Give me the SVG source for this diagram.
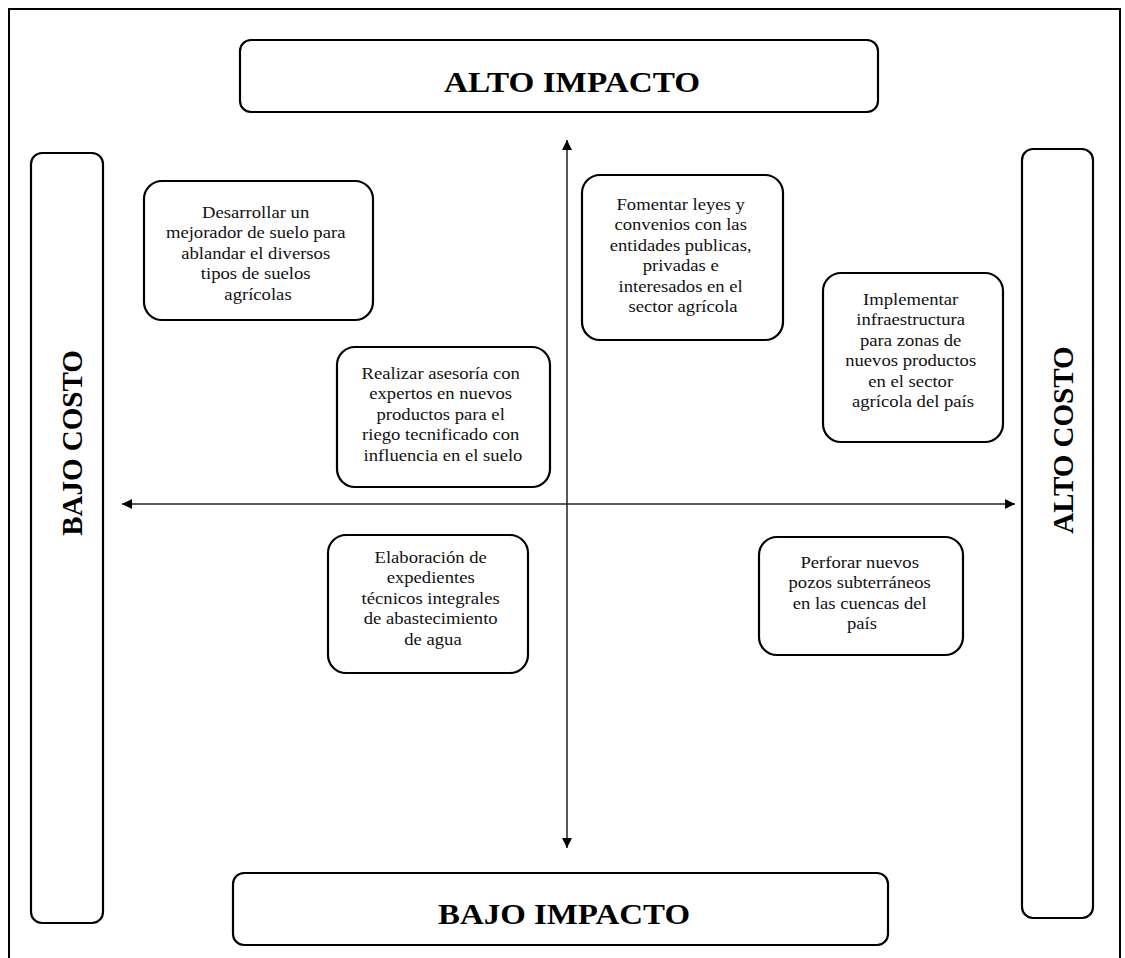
<svg xmlns="http://www.w3.org/2000/svg" width="1125" height="958" viewBox="0 0 1125 958">
  <defs>
    <style>
      .frame { fill: none; stroke: #000; stroke-width: 2; }
      .box { fill: #fff; stroke: #000; stroke-width: 2.2; }
      .axis { fill: none; stroke: #222; stroke-width: 1.5; }
      .head { font-family: "Liberation Serif", "Times New Roman", serif; font-weight: bold; font-size: 29px; fill: #000; text-anchor: middle; }
      .txt { font-family: "Liberation Serif", "Times New Roman", serif; font-size: 16.5px; fill: #111; text-anchor: middle; }
    </style>
    <marker id="arrow" viewBox="0 0 10 10" refX="10" refY="5" markerWidth="10" markerHeight="10" markerUnits="userSpaceOnUse" orient="auto-start-reverse">
      <path d="M0,0 L10,5 L0,10 z" fill="#000"/>
    </marker>
  </defs>

  <rect x="0" y="0" width="1125" height="958" fill="#fff"/>
  <!-- outer frame, open at the bottom edge -->
  <path class="frame" d="M9,960 L9,9 L1120,9 L1120,960"/>

  <!-- axes -->
  <g id="connectors">
    <line class="axis" x1="567" y1="848" x2="567" y2="140" marker-start="url(#arrow)" marker-end="url(#arrow)"/>
    <line class="axis" x1="122" y1="504" x2="1015" y2="504" marker-start="url(#arrow)" marker-end="url(#arrow)"/>
  </g>

  <g id="alto-impacto">
    <rect class="box" x="240" y="40" width="638" height="72" rx="11"/>
    <text class="head" x="572" y="92" textLength="256" lengthAdjust="spacingAndGlyphs">ALTO IMPACTO</text>
  </g>

  <g id="bajo-impacto">
    <rect class="box" x="233" y="873" width="655" height="72" rx="11"/>
    <text class="head" x="564" y="924" textLength="252" lengthAdjust="spacingAndGlyphs">BAJO IMPACTO</text>
  </g>

  <g id="bajo-costo">
    <rect class="box" x="31" y="153" width="72" height="770" rx="11"/>
    <text class="head" transform="translate(82,443) rotate(-90)">BAJO COSTO</text>
  </g>

  <g id="alto-costo">
    <rect class="box" x="1022" y="149" width="71" height="769" rx="11"/>
    <text class="head" transform="translate(1073,440) rotate(-90)">ALTO COSTO</text>
  </g>

  <g id="mejorador-suelo">
    <rect class="box" x="144" y="181" width="229" height="139" rx="18"/>
    <text class="txt" transform="translate(258 0) scale(1.13 1)" x="0" y="218">
      <tspan x="0">Desarrollar un</tspan>
      <tspan x="0" dy="20.5">mejorador de suelo para</tspan>
      <tspan x="0" dy="20.5">ablandar el diversos</tspan>
      <tspan x="0" dy="20.5">tipos de suelos</tspan>
      <tspan x="0" dy="20.5">agrícolas</tspan>
    </text>
  </g>

  <g id="leyes-convenios">
    <rect class="box" x="582" y="175" width="201" height="165" rx="18"/>
    <text class="txt" transform="translate(683 0) scale(1.13 1)" x="0" y="210">
      <tspan x="0">Fomentar leyes y</tspan>
      <tspan x="0" dy="20.5">convenios con las</tspan>
      <tspan x="0" dy="20.5">entidades publicas,</tspan>
      <tspan x="0" dy="20.5">privadas e</tspan>
      <tspan x="0" dy="20.5">interesados en el</tspan>
      <tspan x="0" dy="20.5">sector agrícola</tspan>
    </text>
  </g>

  <g id="infraestructura">
    <rect class="box" x="823" y="273" width="180" height="169" rx="18"/>
    <text class="txt" transform="translate(913 0) scale(1.13 1)" x="0" y="305">
      <tspan x="0">Implementar</tspan>
      <tspan x="0" dy="20.5">infraestructura</tspan>
      <tspan x="0" dy="20.5">para zonas de</tspan>
      <tspan x="0" dy="20.5">nuevos productos</tspan>
      <tspan x="0" dy="20.5">en el sector</tspan>
      <tspan x="0" dy="20.5">agrícola del país</tspan>
    </text>
  </g>

  <g id="asesoria">
    <rect class="box" x="337" y="347" width="213" height="140" rx="18"/>
    <text class="txt" transform="translate(443 0) scale(1.13 1)" x="0" y="379">
      <tspan x="0">Realizar asesoría con</tspan>
      <tspan x="0" dy="20.5">expertos en nuevos</tspan>
      <tspan x="0" dy="20.5">productos para el</tspan>
      <tspan x="0" dy="20.5">riego tecnificado con</tspan>
      <tspan x="0" dy="20.5">influencia en el suelo</tspan>
    </text>
  </g>

  <g id="expedientes">
    <rect class="box" x="328" y="535" width="200" height="138" rx="18"/>
    <text class="txt" transform="translate(433 0) scale(1.13 1)" x="0" y="563">
      <tspan x="0">Elaboración de</tspan>
      <tspan x="0" dy="20.5">expedientes</tspan>
      <tspan x="0" dy="20.5">técnicos integrales</tspan>
      <tspan x="0" dy="20.5">de abastecimiento</tspan>
      <tspan x="0" dy="20.5">de agua</tspan>
    </text>
  </g>

  <g id="pozos">
    <rect class="box" x="759" y="537" width="204" height="118" rx="18"/>
    <text class="txt" transform="translate(862 0) scale(1.13 1)" x="0" y="568">
      <tspan x="0">Perforar nuevos</tspan>
      <tspan x="0" dy="20.5">pozos subterráneos</tspan>
      <tspan x="0" dy="20.5">en las cuencas del</tspan>
      <tspan x="0" dy="20.5">país</tspan>
    </text>
  </g>
</svg>
